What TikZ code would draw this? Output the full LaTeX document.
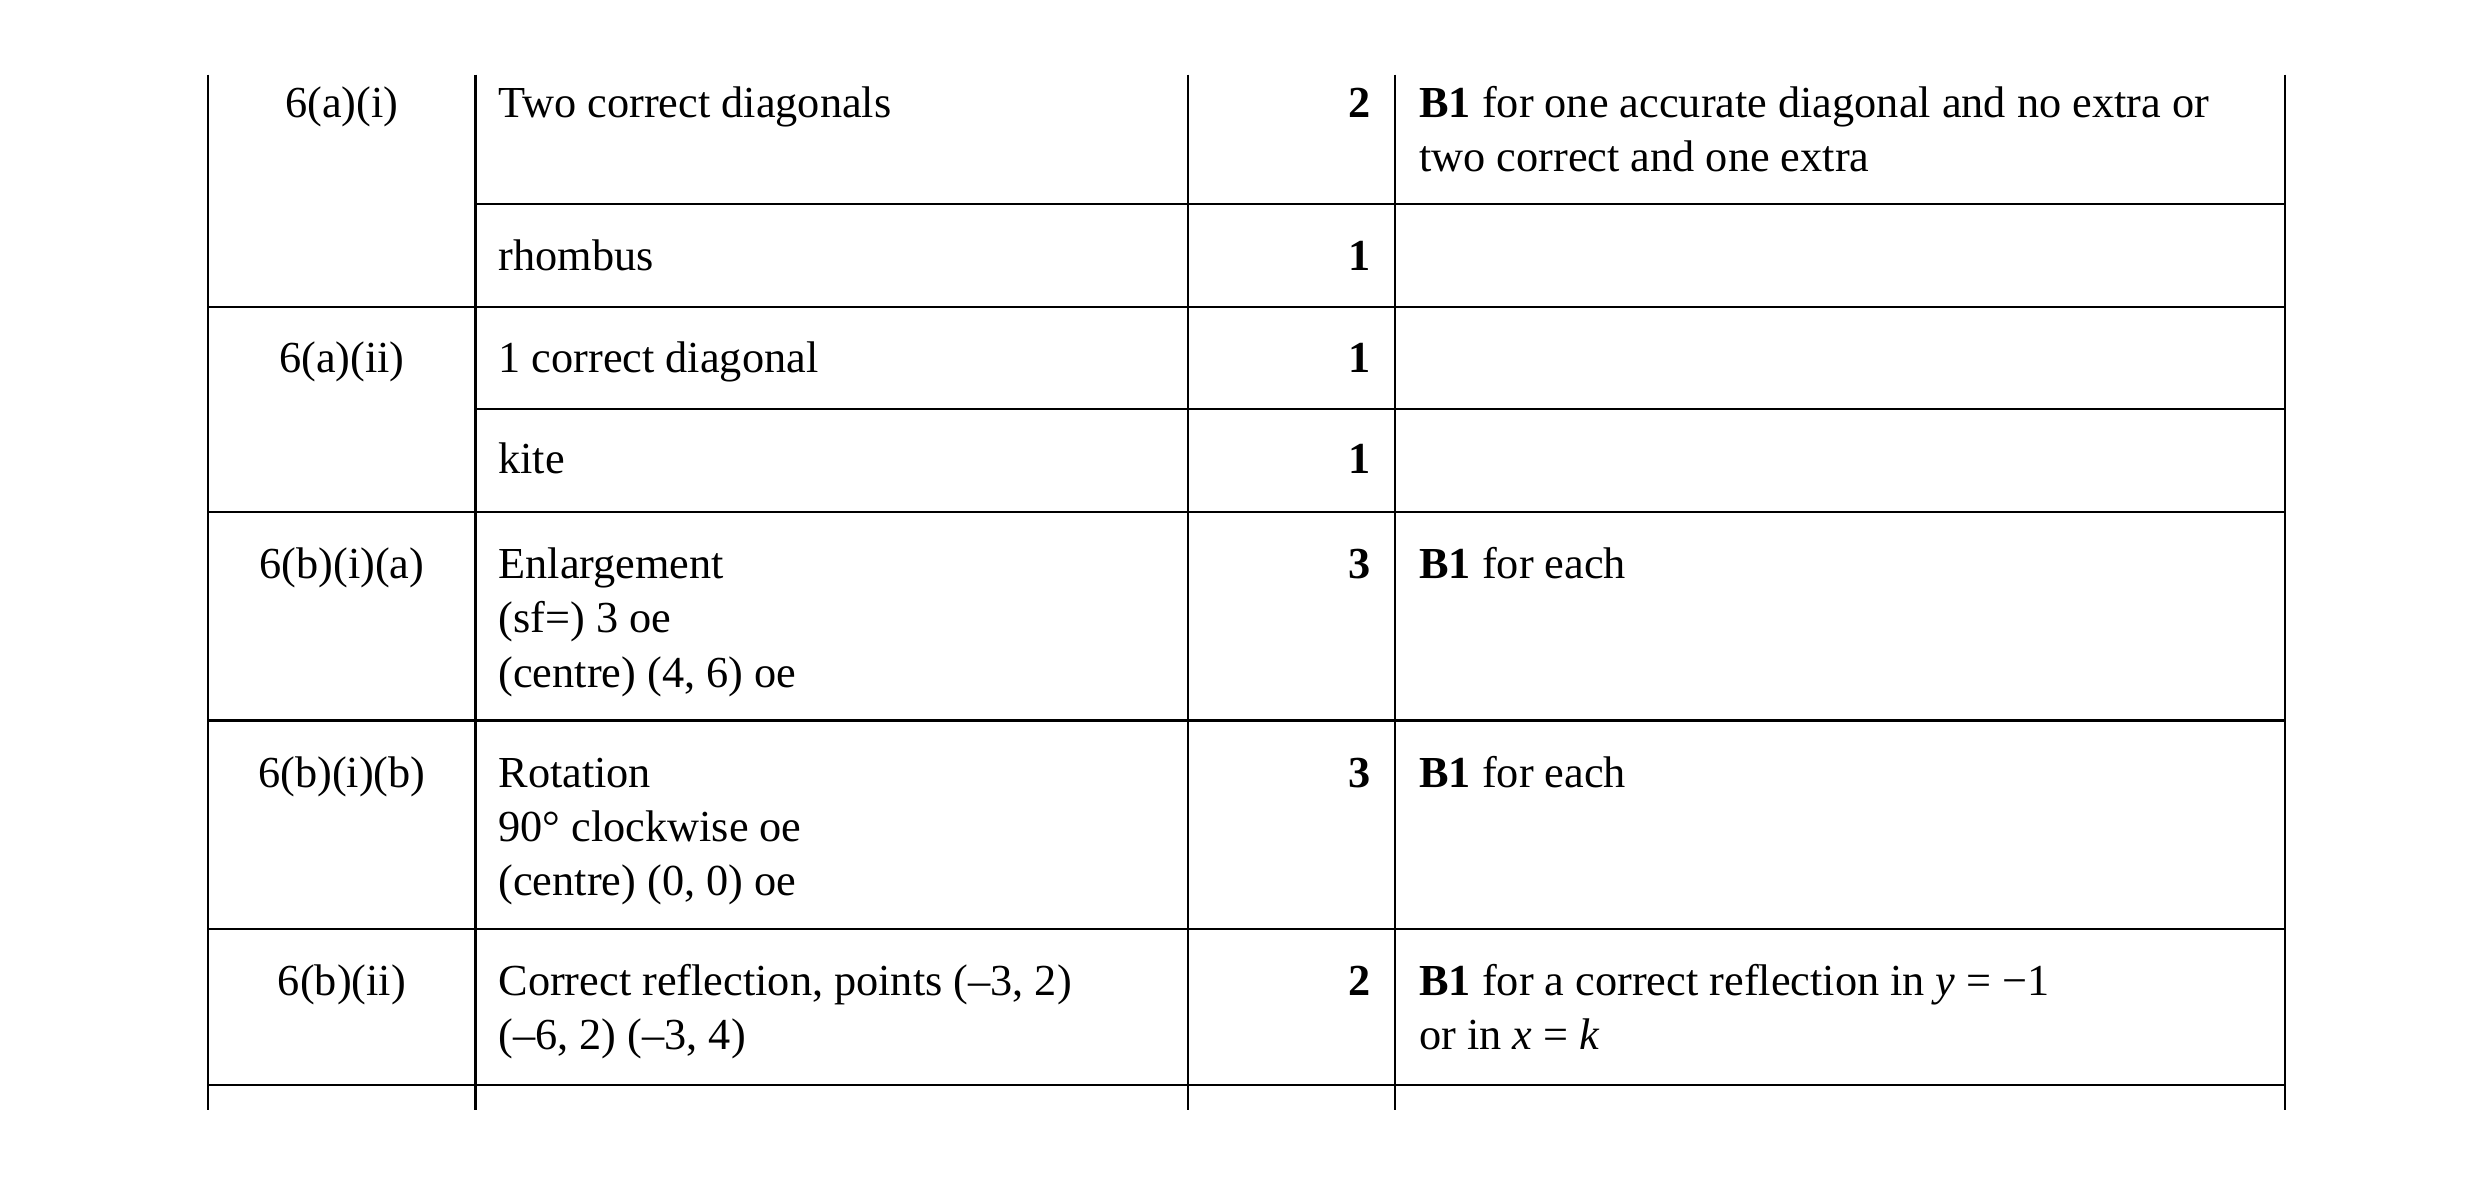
\documentclass[tikz,border=0pt]{standalone}
\usepackage{fontspec}
\setmainfont{Liberation Serif}
\begin{document}
\begin{tikzpicture}[x=0.0159cm,y=-0.0159cm,
  t/.style={anchor=base west,inner sep=0pt,align=left,font=\fontsize{12.6}{15.4}\selectfont},
  c/.style={anchor=base,inner sep=0pt,font=\fontsize{12.6}{15.4}\selectfont},
  m/.style={anchor=base east,inner sep=0pt,font=\fontsize{12.6}{15.4}\selectfont\bfseries},
  g/.style={line width=0.6pt}]
\useasboundingbox (0,0) rectangle (1560,742);
% verticals
\foreach \x in {131,299,747,877,1437} \draw[g] (\x,47) -- (\x,698);
% horizontals
\draw[g] (299,128) -- (1437,128);
\draw[g] (131,193) -- (1437,193);
\draw[g] (299,257) -- (1437,257);
\foreach \y in {322,453,584,682} \draw[g] (131,\y) -- (1437,\y);
% col 1
\node[c] (q1) at (215,74) {6(a)(i)};
\node[c] (q2) at (215,234) {6(a)(ii)};
\node[c] (q3) at (215,364) {6(b)(i)(a)};
\node[c] (q4) at (215,495) {6(b)(i)(b)};
\node[c] (q5) at (215,626) {6(b)(ii)};
% col 2
\node[t] (a1) at (313,74) {Two correct diagonals};
\node[t] (a2) at (313,170) {rhombus};
\node[t] (a3) at (313,234) {1 correct diagonal};
\node[t] (a4) at (313,298) {kite};
\node[t] (a5) at (313,364) {Enlargement};
\node[t] (a5b) at (313,398) {(sf=) 3 oe};
\node[t] (a5c) at (313,432) {(centre) (4, 6) oe};
\node[t] (a6) at (313,495) {Rotation};
\node[t] (a6b) at (313,529) {90° clockwise oe};
\node[t] (a6c) at (313,563) {(centre) (0, 0) oe};
\node[t] (a7) at (313,626) {Correct reflection, points (–3, 2)};
\node[t] (a7b) at (313,660) {(–6, 2) (–3, 4)};
% marks
\node[m] (m1) at (862,74) {2};
\node[m] (m2) at (862,170) {1};
\node[m] (m3) at (862,234) {1};
\node[m] (m4) at (862,298) {1};
\node[m] (m5) at (862,364) {3};
\node[m] (m6) at (862,495) {3};
\node[m] (m7) at (862,626) {2};
% guidance
\node[t] (g1) at (892,74) {\textbf{B1} for one accurate diagonal and no extra or};
\node[t] (g1b) at (892,108) {two correct and one extra};
\node[t] (g5) at (892,364) {\textbf{B1} for each};
\node[t] (g6) at (892,495) {\textbf{B1} for each};
\node[t] (g7) at (892,626) {\textbf{B1} for a correct reflection in \textit{y} = −1};
\node[t] (g7b) at (892,660) {or in \textit{x} = \textit{k}};
\end{tikzpicture}
\end{document}
